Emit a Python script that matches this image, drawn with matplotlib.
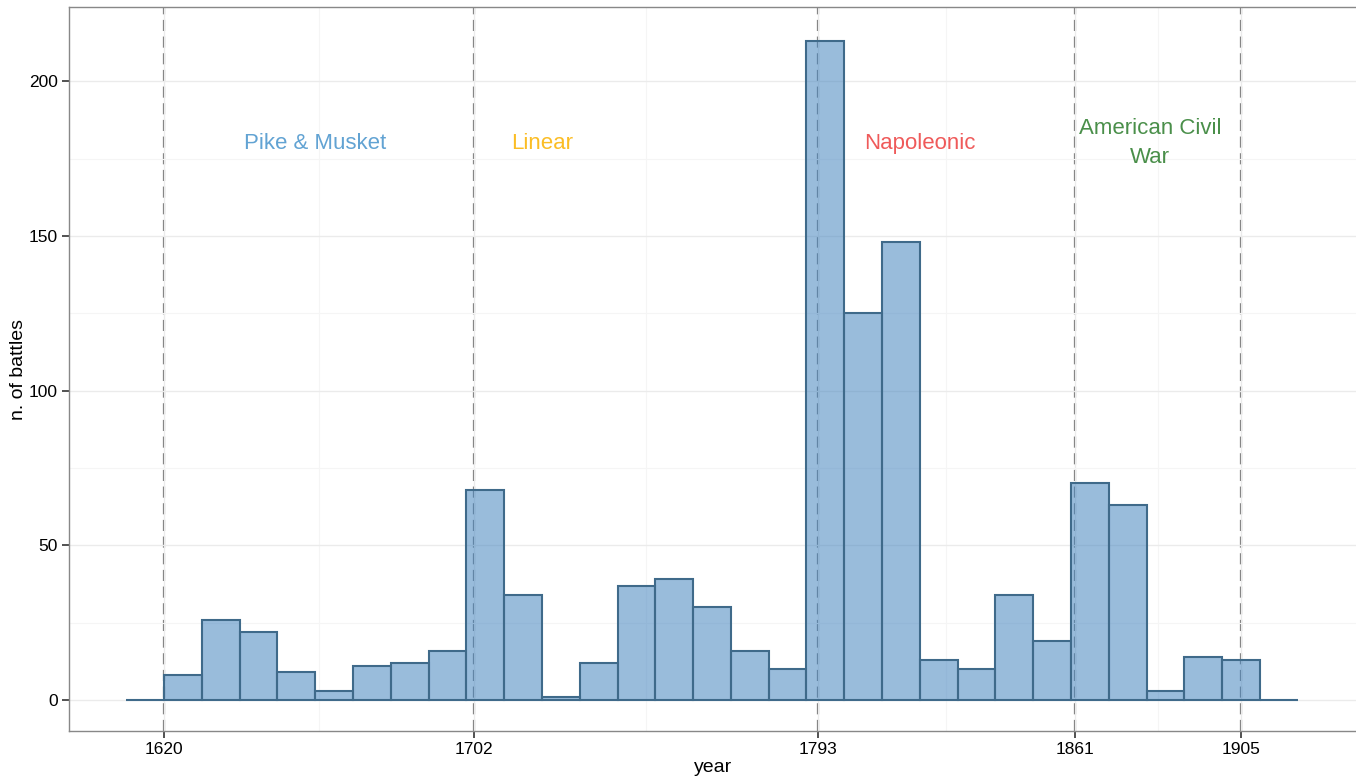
import numpy as np
import matplotlib.pyplot as plt
from matplotlib.ticker import FixedLocator

plt.rcParams['font.family'] = ['Liberation Sans', 'DejaVu Sans']

# decade bins (left edges) and battle counts
bin_lefts = list(range(1610, 1920, 10))
counts = [0, 8, 26, 22, 9, 3, 11, 12, 16, 68, 34, 1, 12, 37, 39, 30, 16, 10,
          213, 125, 148, 13, 10, 34, 19, 70, 63, 3, 14, 13, 0]

# era boundaries
era_years = [1620, 1702, 1793, 1861, 1905]
era_names = ['Pike & Musket', 'Linear', 'Napoleonic', 'American Civil\nWar']
era_label_x = [1660, 1720, 1820, 1881]
era_colors = ['#62a3d3', '#fbbd25', '#ef5a5a', '#4a8f4a']

fig, ax = plt.subplots(figsize=(13.56, 7.8), dpi=100)
fig.subplots_adjust(left=0.0509, right=1.0015, top=0.991, bottom=0.0628)

# grid
minor_x = [(a + b) / 2 for a, b in zip(era_years[:-1], era_years[1:])]
ax.xaxis.set_major_locator(FixedLocator(era_years))
ax.xaxis.set_minor_locator(FixedLocator(minor_x))
ax.yaxis.set_major_locator(FixedLocator([0, 50, 100, 150, 200]))
ax.yaxis.set_minor_locator(FixedLocator([25, 75, 125, 175]))
ax.grid(which='major', color='#ebebeb', linewidth=1.0, zorder=0)
ax.grid(which='minor', color='#f5f5f5', linewidth=0.8, zorder=0)

for yr in era_years:
    ax.axvline(yr, color='#6e6e6e', linestyle=(0, (5, 2.5)), linewidth=1.6, zorder=1)

bins = bin_lefts + [bin_lefts[-1] + 10]
ax.hist(bin_lefts, bins=bins, weights=counts, histtype='bar',
        facecolor=(0.27, 0.52, 0.75, 0.55), edgecolor='#3f6a8a', linewidth=1.5, zorder=2)

for name, x, c in zip(era_names, era_label_x, era_colors):
    ax.text(x, 180, name, color=c, fontsize=16, ha='center', va='center',
            linespacing=1.5, zorder=3)

ax.set_xlim(1594.86, 1935.96)
ax.set_ylim(-10, 224)
ax.set_xlabel('year', fontsize=14, labelpad=1)
ax.set_ylabel('n. of battles', fontsize=14, labelpad=1)
ax.tick_params(which='major', length=5, width=1.2, color='#333333', labelsize=12.5,
               labelcolor='black', pad=3)
ax.tick_params(which='minor', length=0)
for s in ax.spines.values():
    s.set_color('#888888')
    s.set_linewidth(1.0)

plt.savefig('out.png')
